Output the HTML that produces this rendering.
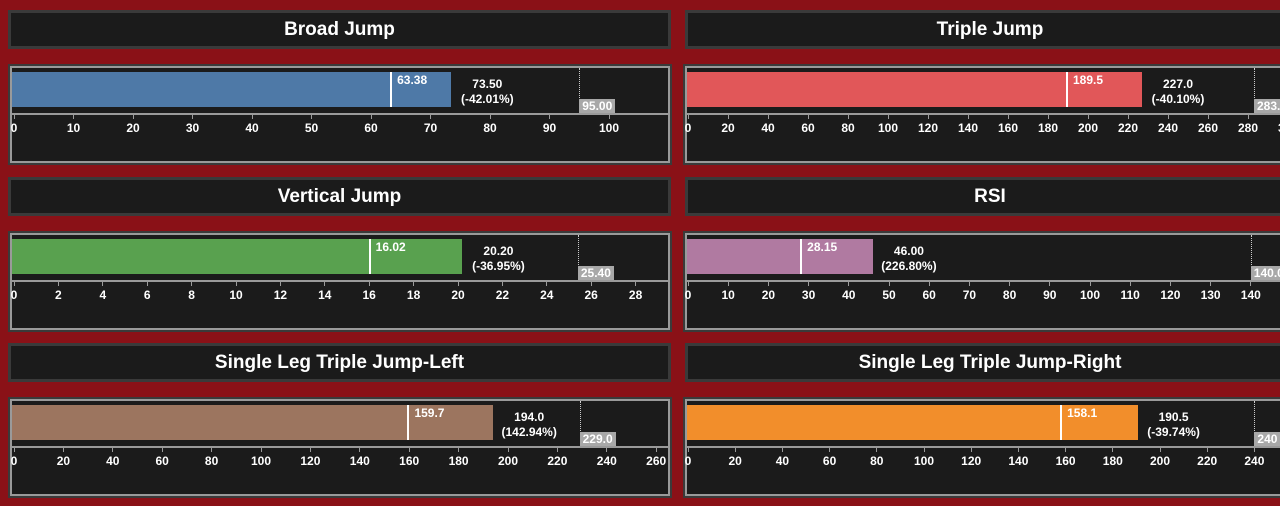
<!DOCTYPE html>
<html><head><meta charset="utf-8"><style>
body{margin:0;width:1280px;height:506px;background:#8a1117;overflow:hidden;position:relative;font-family:"Liberation Sans",Arial,sans-serif;font-weight:bold;color:#fff}
.t{position:absolute;background:#1b1b1b;border:3px solid #3a3a3a;box-sizing:border-box;font-size:19px;text-align:center;line-height:33px}
.c{position:absolute;background:#1b1b1b;border:2px solid #3a3a3a;box-sizing:border-box;overflow:hidden}
.c .in{position:absolute;left:0;top:0;right:0;bottom:0;border:2px solid #9a9a9a}
.a{position:absolute}
</style></head><body>
<div id="root"></div>
<script>
var P=[
{t:"Broad Jump",L:0,r:0,x0:14,s:5.95,bar:73.5,m:63.38,ml:"63.38",v:"73.50",p:"(-42.01%)",d:95,dl:"95.00",ticks:[0,10,20,30,40,50,60,70,80,90,100],col:"#4e79a7"},
{t:"Triple Jump",L:1,r:0,x0:688,s:2.0,bar:227,m:189.5,ml:"189.5",v:"227.0",p:"(-40.10%)",d:283,dl:"283.0",ticks:[0,20,40,60,80,100,120,140,160,180,200,220,240,260,280,300],col:"#e15759"},
{t:"Vertical Jump",L:0,r:1,x0:14,s:22.2,bar:20.2,m:16.02,ml:"16.02",v:"20.20",p:"(-36.95%)",d:25.4,dl:"25.40",ticks:[0,2,4,6,8,10,12,14,16,18,20,22,24,26,28],col:"#59a14f"},
{t:"RSI",L:1,r:1,x0:688,s:4.02,bar:46,m:28.15,ml:"28.15",v:"46.00",p:"(226.80%)",d:140,dl:"140.0",ticks:[0,10,20,30,40,50,60,70,80,90,100,110,120,130,140],col:"#b07aa1"},
{t:"Single Leg Triple Jump-Left",L:0,r:2,x0:14,s:2.47,bar:194,m:159.7,ml:"159.7",v:"194.0",p:"(142.94%)",d:229,dl:"229.0",ticks:[0,20,40,60,80,100,120,140,160,180,200,220,240,260],col:"#9c755f"},
{t:"Single Leg Triple Jump-Right",L:1,r:2,x0:688,s:2.36,bar:190.5,m:158.1,ml:"158.1",v:"190.5",p:"(-39.74%)",d:240,dl:"240",ticks:[0,20,40,60,80,100,120,140,160,180,200,220,240,260],col:"#f28e2b"}];
var h="",rows=[0,167,333];
P.forEach(function(q){
 var y=rows[q.r];
 var tl=q.L?685:8, tw=q.L?610:663;
 h+='<div class="t" style="left:'+tl+'px;top:'+(y+10)+'px;width:'+tw+'px;height:39px">'+q.t+'</div>';
 var cl=q.L?683:8, cw=q.L?610:664;
 var cy=y+64;
 h+='<div class="c" style="left:'+cl+'px;top:'+cy+'px;width:'+cw+'px;height:101px"><div class="in"></div></div>';
 var X=function(v){return q.x0+v*q.s};
 var ax=cl+4;
 h+='<div class="a" style="left:'+ax+'px;top:'+(y+72)+'px;width:'+(X(q.bar)-ax)+'px;height:35px;background:'+q.col+'"></div>';
 h+='<div class="a" style="left:'+(X(q.m)-1)+'px;top:'+(y+72)+'px;width:2px;height:35px;background:#fff"></div>';
 h+='<div class="a" style="left:'+(X(q.m)+6)+'px;top:'+(y+73)+'px;font-size:12px">'+q.ml+'</div>';
 h+='<div class="a" style="left:'+(X(q.bar)+0)+'px;top:'+(y+77)+'px;width:72px;text-align:center;font-size:12px;line-height:15px">'+q.v+'<br>'+q.p+'</div>';
 h+='<div class="a" style="left:'+X(q.d)+'px;top:'+(y+68)+'px;height:46px;border-left:1px dotted #ccc"></div>';
 h+='<div class="a" style="left:'+X(q.d)+'px;top:'+(y+99)+'px;padding:0 3px;height:15px;line-height:15px;background:#a8a8a8;font-size:12px">'+q.dl+'</div>';
 h+='<div class="a" style="left:'+ax+'px;top:'+(y+113)+'px;width:'+(cw-8)+'px;height:2px;background:#9a9a9a"></div>';
 q.ticks.forEach(function(t){var x=X(t);
  h+='<div class="a" style="left:'+(x-0.5)+'px;top:'+(y+114)+'px;width:1px;height:5px;background:#9a9a9a"></div>';
  h+='<div class="a" style="left:'+(x-20)+'px;top:'+(y+121)+'px;width:40px;text-align:center;font-size:12px">'+t+'</div>';
 });
});
document.getElementById("root").innerHTML=h;
</script>
</body></html>
